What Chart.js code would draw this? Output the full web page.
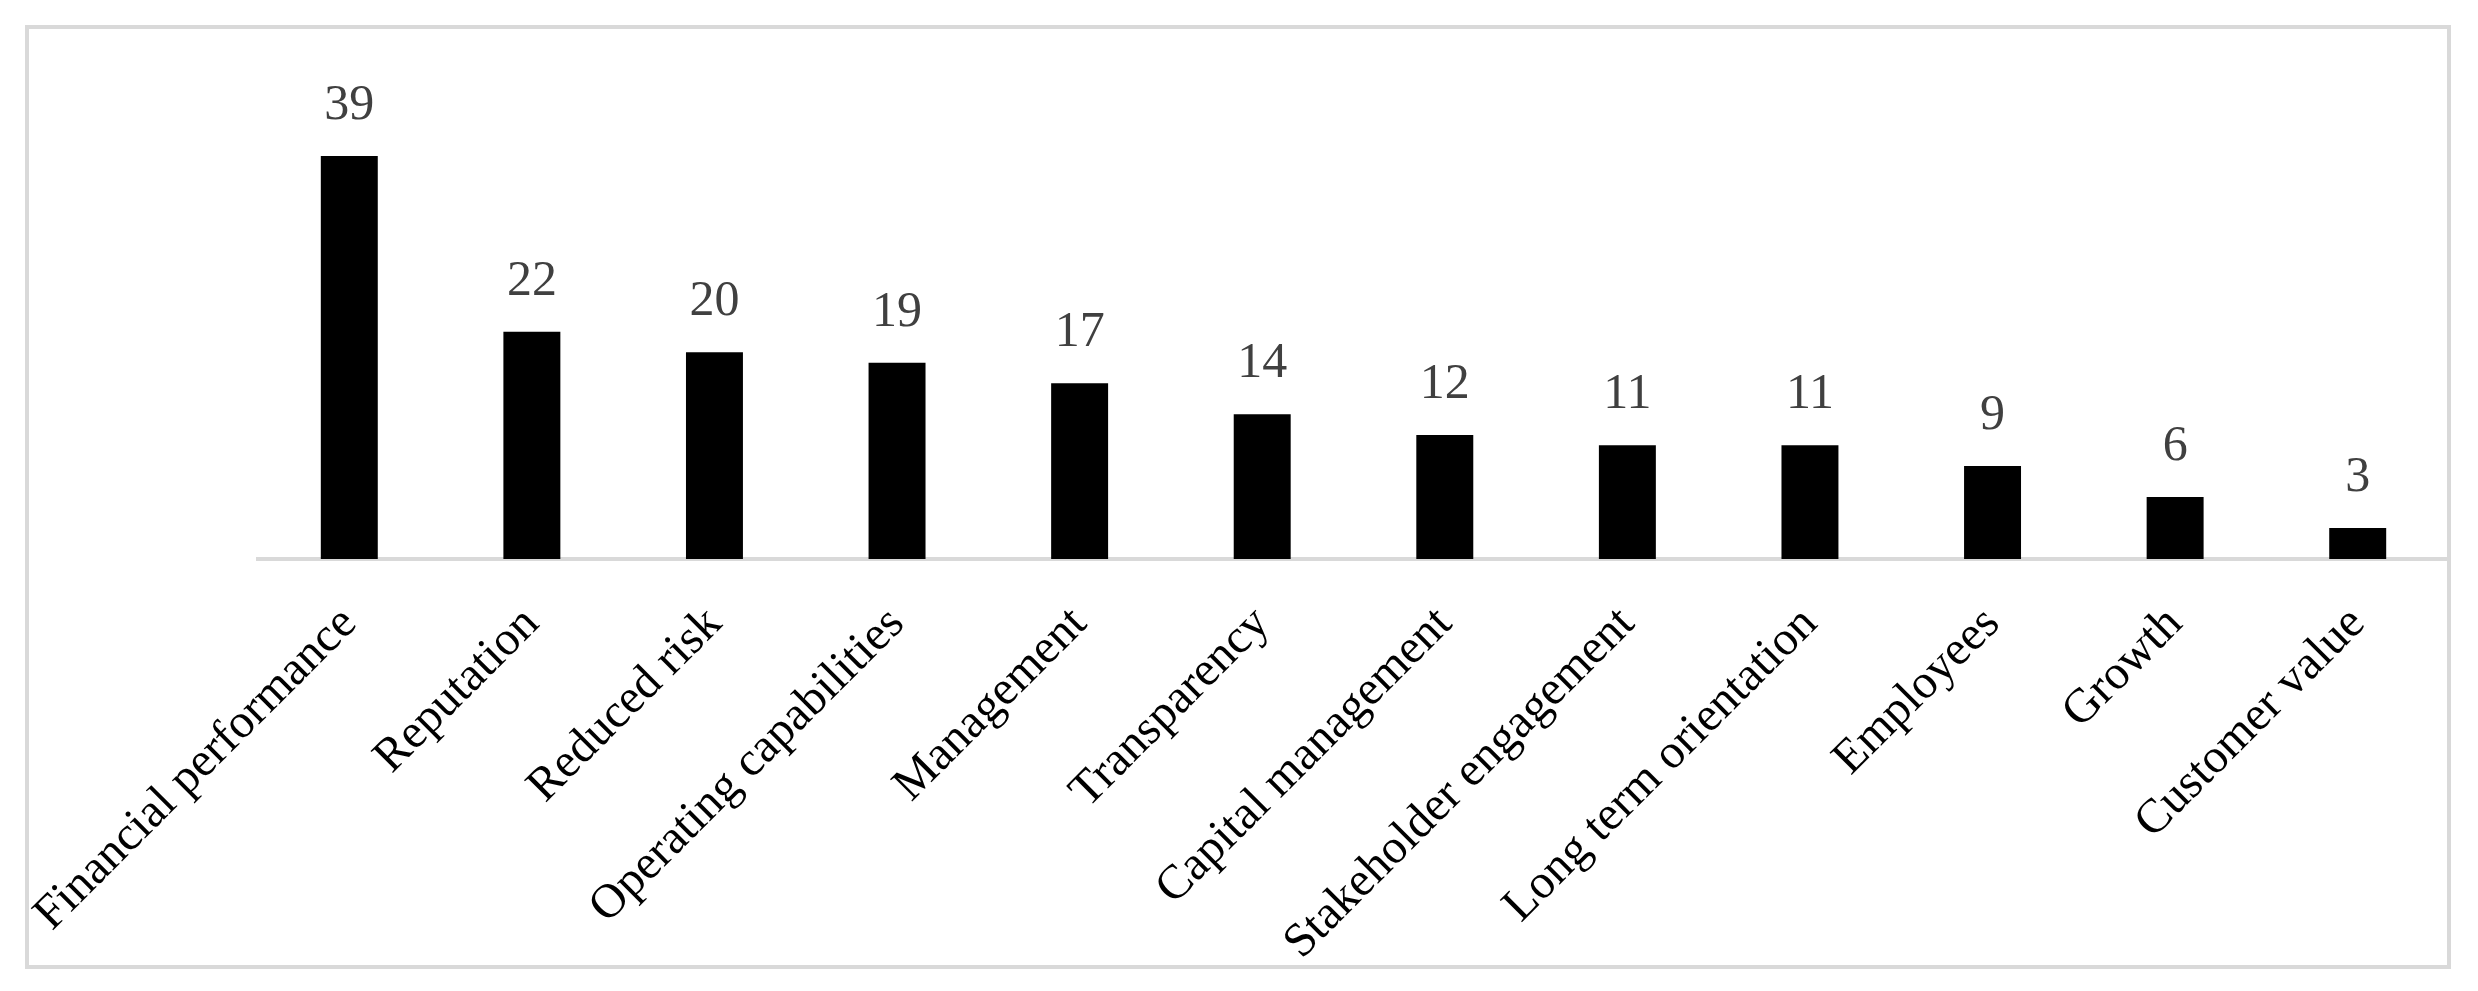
<!DOCTYPE html>
<html>
<head>
<meta charset="utf-8">
<script src="https://cdn.jsdelivr.net/npm/chart.js@4.4.1/dist/chart.umd.min.js"></script>
<style>
    html, body { margin: 0; padding: 0; background: #ffffff; }
    #chart { display: block; }
</style>
</head>
<body>
<canvas id="chart" width="2478" height="991"></canvas>
<script>
// Categories and counts
const categories = [
    'Financial performance',
    'Reputation',
    'Reduced risk',
    'Operating capabilities',
    'Management',
    'Transparency',
    'Capital management',
    'Stakeholder engagement',
    'Long term orientation',
    'Employees',
    'Growth',
    'Customer value'
];
const counts = [39, 22, 20, 19, 17, 14, 12, 11, 11, 9, 6, 3];

const FONT = '"Liberation Serif", "Times New Roman", serif';

// Light grey frame round the whole picture
const framePlugin = {
    id: 'frame',
    beforeDraw(chart) {
        const ctx = chart.ctx;
        ctx.save();
        ctx.fillStyle = '#ffffff';
        ctx.fillRect(0, 0, chart.width, chart.height);
        ctx.strokeStyle = '#d9d9d9';
        ctx.lineWidth = 4;
        ctx.strokeRect(27, 27, 2422, 940);
        ctx.restore();
    }
};

// Value printed above each bar
const valueLabels = {
    id: 'valueLabels',
    afterDatasetsDraw(chart) {
        const ctx = chart.ctx;
        const meta = chart.getDatasetMeta(0);
        ctx.save();
        ctx.font = '50px ' + FONT;
        ctx.fillStyle = '#404040';
        ctx.textAlign = 'center';
        ctx.textBaseline = 'alphabetic';
        meta.data.forEach((bar, i) => {
            ctx.fillText(String(counts[i]), bar.x, bar.y - 37);
        });
        ctx.restore();
    }
};

new Chart(document.getElementById('chart').getContext('2d'), {
    type: 'bar',
    data: {
        labels: categories,
        datasets: [{
            data: counts,
            backgroundColor: '#000000',
            borderWidth: 0,
            categoryPercentage: 1.0,
            barPercentage: 0.312
        }]
    },
    options: {
        responsive: false,
        animation: false,
        devicePixelRatio: 1,
        layout: {
            padding: { left: 258, right: 29, top: 94, bottom: 0 }
        },
        plugins: {
            legend: { display: false },
            tooltip: { enabled: false }
        },
        scales: {
            x: {
                grid: { display: false, drawTicks: false },
                border: { display: true, color: '#d9d9d9', width: 4 },
                ticks: {
                    color: '#000000',
                    font: { family: FONT, size: 48 },
                    minRotation: 45,
                    maxRotation: 45,
                    autoSkip: false,
                    padding: 37
                },
                afterFit(scale) {
                    // keep the plot edges fixed, the rotated labels may spill left
                    scale.height = 432;
                    scale.paddingLeft = 0;
                    scale.paddingRight = 0;
                }
            },
            y: {
                display: false,
                min: 0,
                max: 45
            }
        }
    },
    plugins: [framePlugin, valueLabels]
});
</script>
</body>
</html>
